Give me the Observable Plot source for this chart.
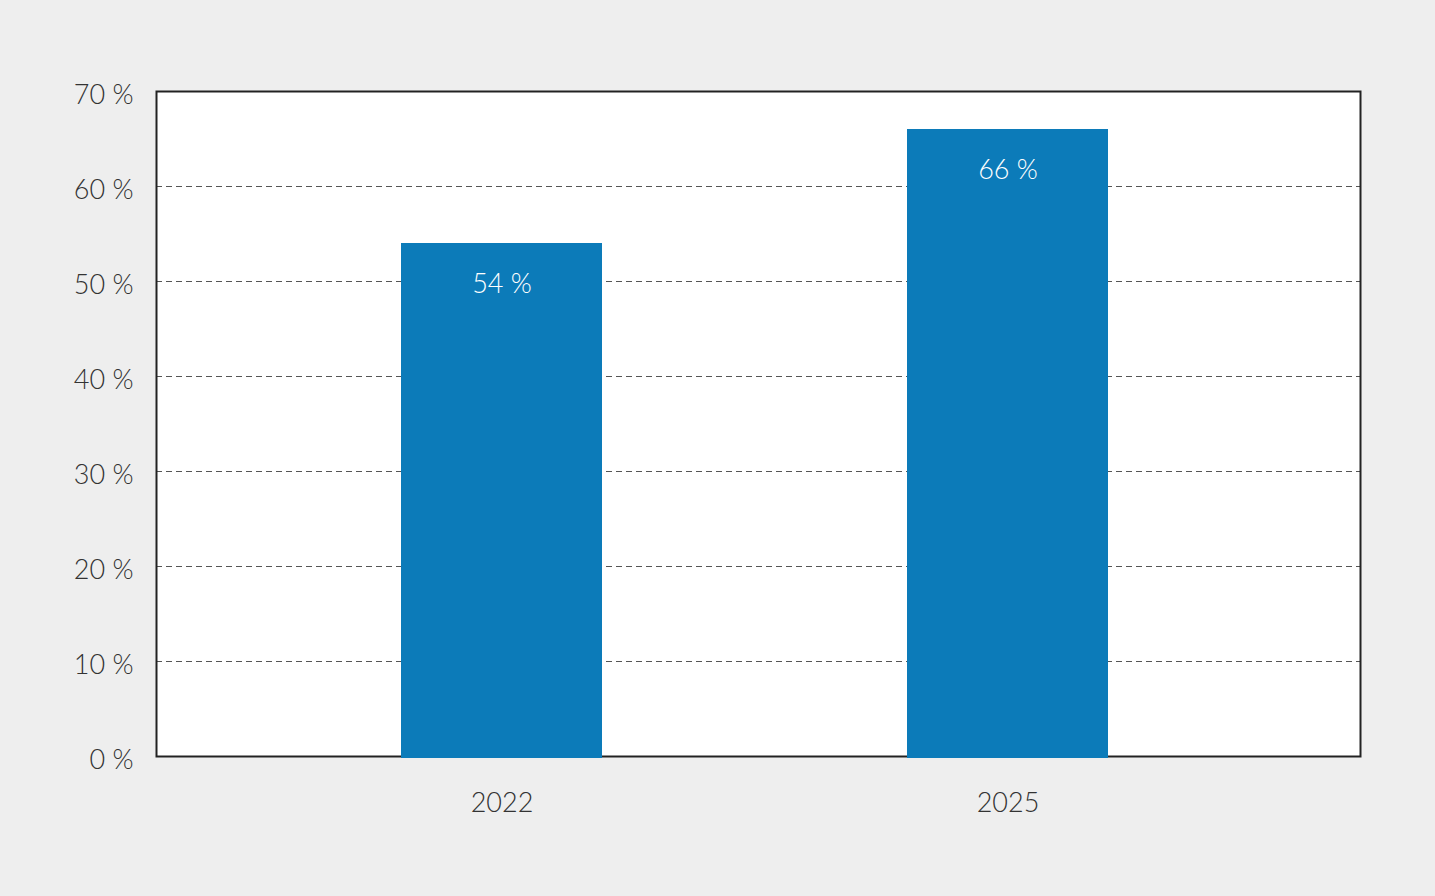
<!DOCTYPE html>
<html>
<head>
<meta charset="utf-8">
<script src="https://cdn.jsdelivr.net/npm/d3@7"></script>
<script src="https://cdn.jsdelivr.net/npm/@observablehq/plot@0.6"></script>
<style>
  html, body { margin: 0; padding: 0; background: #eeeeee; }
  #chart { width: 1435px; height: 896px; }
</style>
</head>
<body>
<div id="chart"></div>
<script>
const years = ["2022", "2025"];
const shares = [54, 66];
const yTicks = [0, 10, 20, 30, 40, 50, 60, 70];
const gridTicks = [10, 20, 30, 40, 50, 60];

const data = years.map((year, i) => ({year, share: shares[i]}));
const fmt = d => `${d} %`;

const chart = Plot.plot({
  width: 1435,
  height: 896,
  marginLeft: 156,
  marginRight: 75,
  marginTop: 91,
  marginBottom: 140,
  style: {
    background: "#eeeeee",
    fontFamily: "Lato, 'Open Sans', sans-serif",
    fontWeight: 300,
    fontSize: "27px",
    color: "#333333"
  },
  x: {domain: years, paddingInner: 0.603, paddingOuter: 0.49, align: 0.492, label: null},
  y: {domain: [0, 70], label: null},
  marks: [
    Plot.frame({fill: "white", stroke: null}),
    Plot.ruleY(gridTicks, {stroke: "#555555", strokeWidth: 1, strokeDasharray: "6,4"}),
    Plot.frame({stroke: "#222222", strokeWidth: 2}),
    Plot.barY(data, {x: "year", y: "share", fill: "#0c7bb9", insetBottom: -2}),
    Plot.axisY({ticks: yTicks, tickSize: 0, tickPadding: 23, tickFormat: fmt, dy: 4, fill: "#333333", fontSize: 27}),
    Plot.axisX({tickSize: 0, tickPadding: 36, fill: "#333333", fontSize: 27}),
    Plot.text(data, {x: "year", y: "share", text: d => fmt(d.share), dy: 41, fill: "white", fontSize: 27})
  ]
});
document.getElementById("chart").appendChild(chart);
</script>
</body>
</html>
